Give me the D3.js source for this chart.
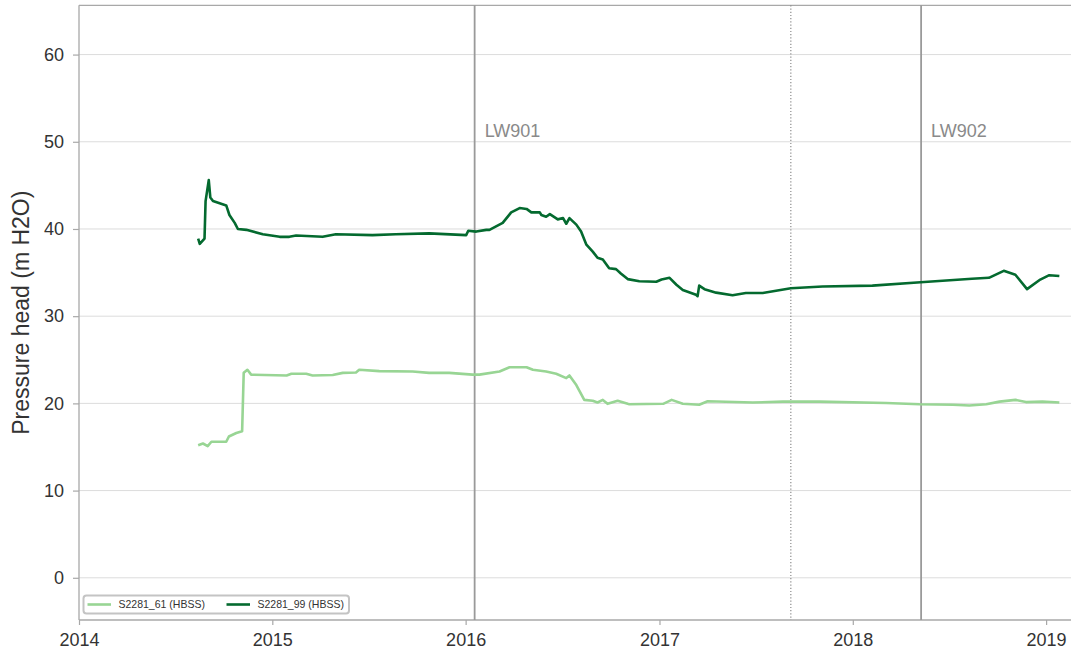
<!DOCTYPE html>
<html>
<head>
<meta charset="utf-8">
<script src="https://cdnjs.cloudflare.com/ajax/libs/d3/7.8.5/d3.min.js"></script>
<style>
    body { margin: 0; background: #fff; }
    svg { display: block; font-family: "Liberation Sans", Arial, sans-serif; }
    .axis .domain { display: none; }
    .axis line { stroke: #a8a8a8; stroke-width: 1.2; }
    .axis text { fill: #333; font-size: 18px; }
</style>
</head>
<body>
<div id="chart-area"></div>
<script>
/*
*    Pressure head chart - S2281 piezometers
*/

// Data
var dates61 = ["2014-08-14","2014-08-23","2014-09-01","2014-09-08","2014-10-06","2014-10-11","2014-10-25","2014-11-05",
    "2014-11-08","2014-11-15","2014-11-22","2015-01-28","2015-02-06","2015-03-06","2015-03-18","2015-04-25","2015-05-14",
    "2015-06-08","2015-06-14","2015-07-22","2015-09-23","2015-10-24","2015-12-01","2016-01-14","2016-01-27","2016-03-05",
    "2016-03-24","2016-04-25","2016-05-07","2016-06-01","2016-06-20","2016-07-09","2016-07-15","2016-07-28","2016-08-12",
    "2016-08-28","2016-09-06","2016-09-16","2016-09-25","2016-10-14","2016-11-02","2016-11-05","2017-01-08","2017-01-24",
    "2017-02-14","2017-03-17","2017-04-02","2017-06-26","2017-08-22","2017-10-30","2018-03-05","2018-05-07","2018-07-09",
    "2018-08-09","2018-09-10","2018-10-05","2018-11-04","2018-11-24","2018-12-25","2019-01-26"];
var values61 = [15.2,15.4,15.1,15.6,15.6,16.2,16.6,16.8,
    23.5,23.85,23.3,23.2,23.4,23.4,23.2,23.25,23.5,
    23.55,23.85,23.7,23.65,23.5,23.5,23.3,23.3,23.65,
    24.15,24.15,23.85,23.65,23.4,22.9,23.2,22.1,20.4,
    20.3,20.1,20.4,19.95,20.3,19.95,19.9,19.95,20.4,
    19.95,19.85,20.25,20.1,20.2,20.2,20.05,19.9,19.85,
    19.75,19.9,20.2,20.4,20.15,20.2,20.1];

var dates99 = ["2014-08-14","2014-08-17","2014-08-26","2014-08-28","2014-09-03","2014-09-06","2014-09-11","2014-10-06",
    "2014-10-12","2014-10-22","2014-10-28","2014-11-13","2014-12-14","2015-01-15","2015-02-02","2015-02-15","2015-04-06",
    "2015-05-01","2015-07-09","2015-08-22","2015-10-24","2016-01-02","2016-01-06","2016-01-21","2016-02-09","2016-02-15",
    "2016-03-11","2016-03-27","2016-04-12","2016-04-25","2016-05-04","2016-05-20","2016-05-23","2016-06-01","2016-06-08",
    "2016-06-23","2016-07-03","2016-07-09","2016-07-15","2016-07-28","2016-08-06","2016-08-16","2016-08-28","2016-09-06",
    "2016-09-16","2016-09-28","2016-10-11","2016-10-20","2016-11-02","2016-11-24","2016-12-26","2017-01-05","2017-01-20",
    "2017-02-02","2017-02-14","2017-03-11","2017-03-14","2017-03-17","2017-03-27","2017-04-18","2017-05-19","2017-06-13",
    "2017-07-15","2017-09-06","2017-11-05","2018-02-07","2018-05-09","2018-08-14","2018-09-15","2018-10-13","2018-11-04",
    "2018-11-26","2018-12-21","2019-01-07","2019-01-26"];
var values99 = [38.9,38.3,38.9,43.2,45.6,43.6,43.2,42.7,
    41.6,40.7,40.0,39.9,39.4,39.1,39.1,39.25,39.1,
    39.4,39.3,39.4,39.5,39.3,39.8,39.7,39.9,39.9,
    40.7,41.9,42.4,42.3,41.9,41.9,41.6,41.4,41.7,
    41.1,41.25,40.6,41.25,40.5,39.7,38.2,37.4,36.7,
    36.5,35.5,35.4,34.9,34.25,34.0,33.95,34.2,34.4,
    33.6,33.0,32.45,32.3,33.5,33.1,32.7,32.4,32.65,
    32.65,33.2,33.4,33.5,33.9,34.3,34.4,35.2,34.75,
    33.1,34.2,34.7,34.6];

var seriesNames = ["S2281_61 (HBSS)", "S2281_99 (HBSS)"];
var seriesColors = ["#98d594", "#046a2f"];

var eventDates = ["2016-01-18", "2017-09-06", "2018-05-10"];
var eventLabels = ["LW901", "", "LW902"];
var eventDotted = [false, true, false];

var yTicks = [0, 10, 20, 30, 40, 50, 60];
var xTicks = ["2014-01-01","2015-01-01","2016-01-01","2017-01-01","2018-01-01","2019-01-01"];

var parseDate = d3.timeParse("%Y-%m-%d");

var margin = { left: 79, right: 0, top: 5.3, bottom: 32 };
var width = 1071 - margin.left - margin.right,
    height = 652 - margin.top - margin.bottom;

var svg = d3.select("#chart-area")
    .append("svg")
        .attr("width", 1071)
        .attr("height", 652);
var g = svg.append("g")
        .attr("transform", "translate(" + margin.left + "," + margin.top + ")");

// Scales
var x = d3.scaleTime()
    .domain([parseDate("2014-01-01"), parseDate("2019-02-17")])
    .range([0, width]);
var y = d3.scaleLinear()
    .domain([-4.84, 65.65])
    .range([height, 0]);

// Gridlines
g.append("g")
    .selectAll("line")
    .data(yTicks)
    .enter().append("line")
        .attr("x1", 0)
        .attr("x2", width)
        .attr("y1", function(d){ return y(d); })
        .attr("y2", function(d){ return y(d); })
        .attr("stroke", "#dcdcdc")
        .attr("stroke-width", 1);

// Axes
var xAxisCall = d3.axisBottom(x)
    .tickValues(xTicks.map(parseDate))
    .tickFormat(d3.timeFormat("%Y"))
    .tickSizeOuter(0)
    .tickSize(5)
    .tickPadding(8);
g.append("g")
    .attr("class", "x axis")
    .attr("transform", "translate(0," + height + ")")
    .call(xAxisCall);

var yAxisCall = d3.axisLeft(y)
    .tickValues(yTicks)
    .tickSizeOuter(0)
    .tickSize(6)
    .tickPadding(9);
g.append("g")
    .attr("class", "y axis")
    .call(yAxisCall);

// Spines (left, top, bottom)
g.append("line")
    .attr("x1", 0).attr("x2", 0)
    .attr("y1", 0).attr("y2", height)
    .attr("stroke", "#a8a8a8").attr("stroke-width", 1.3);
g.append("line")
    .attr("x1", 0).attr("x2", width)
    .attr("y1", 0).attr("y2", 0)
    .attr("stroke", "#a8a8a8").attr("stroke-width", 1.3);
g.append("line")
    .attr("x1", 0).attr("x2", width)
    .attr("y1", height).attr("y2", height)
    .attr("stroke", "#a8a8a8").attr("stroke-width", 1.3);

// Event lines
eventDates.forEach(function(d, i) {
    var ex = x(parseDate(d));
    g.append("line")
        .attr("x1", ex).attr("x2", ex)
        .attr("y1", 0).attr("y2", height)
        .attr("stroke", eventDotted[i] ? "#8c8c8c" : "#9a9a9a")
        .attr("stroke-width", eventDotted[i] ? 1.2 : 1.8)
        .attr("stroke-dasharray", eventDotted[i] ? "1.2,2" : null);
    if (eventLabels[i]) {
        g.append("text")
            .attr("x", ex + 10)
            .attr("y", 136.7 - margin.top)
            .attr("font-size", "18px")
            .attr("fill", "#8a8a8a")
            .text(eventLabels[i]);
    }
});

// Lines
var line = d3.line()
    .x(function(d){ return x(d.date); })
    .y(function(d){ return y(d.value); });

var series = [
    { name: seriesNames[0], color: seriesColors[0],
      values: dates61.map(function(d, i){ return { date: parseDate(d), value: values61[i] }; }) },
    { name: seriesNames[1], color: seriesColors[1],
      values: dates99.map(function(d, i){ return { date: parseDate(d), value: values99[i] }; }) }
];

series.forEach(function(s) {
    g.append("path")
        .datum(s.values)
        .attr("fill", "none")
        .attr("stroke", s.color)
        .attr("stroke-width", 2.6)
        .attr("stroke-linejoin", "round")
        .attr("d", line);
});

// Y label
svg.append("text")
    .attr("transform", "rotate(-90)")
    .attr("x", -(margin.top + height / 2))
    .attr("y", 29)
    .attr("font-size", "23px")
    .attr("fill", "#333")
    .attr("text-anchor", "middle")
    .text("Pressure head (m H2O)");

// Legend
var legend = svg.append("g")
    .attr("transform", "translate(83.5,595.5)");
legend.append("rect")
    .attr("width", 265.5)
    .attr("height", 18)
    .attr("rx", 3)
    .attr("fill", "#fff")
    .attr("stroke", "#c4c4c4")
    .attr("stroke-width", 2);

var legendX = [4, 143];
series.forEach(function(s, i) {
    var row = legend.append("g")
        .attr("transform", "translate(" + legendX[i] + ",9)");
    row.append("line")
        .attr("x1", 0).attr("x2", 23.5)
        .attr("stroke", s.color)
        .attr("stroke-width", 2.6);
    row.append("text")
        .attr("x", 31)
        .attr("y", 3.6)
        .attr("font-size", "10.5px")
        .attr("fill", "#333")
        .text(s.name);
});
</script>
</body>
</html>
